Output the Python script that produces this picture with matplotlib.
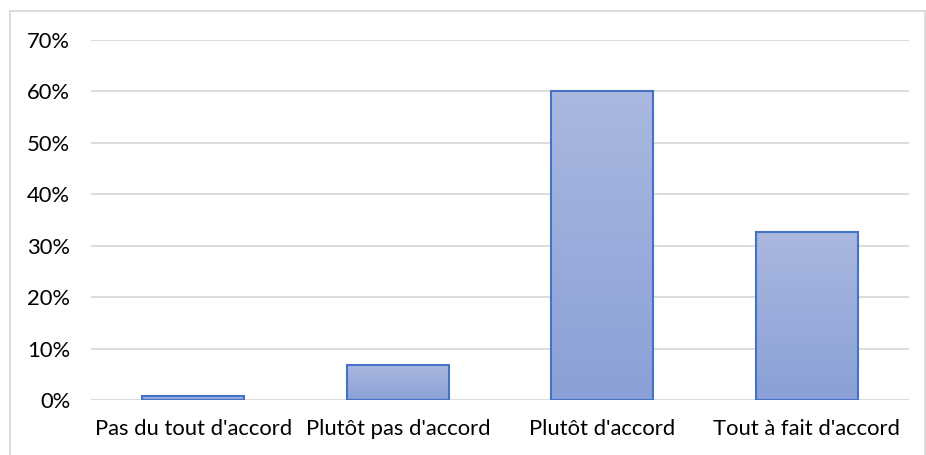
import matplotlib.pyplot as plt
import numpy as np
from matplotlib.colors import LinearSegmentedColormap
from matplotlib.patches import Rectangle
from matplotlib.ticker import PercentFormatter

categories = ["Pas du tout d'accord", "Plutôt pas d'accord", "Plutôt d'accord", "Tout à fait d'accord"]
values = [0.007, 0.068, 0.600, 0.327]
yticks = [0.0, 0.1, 0.2, 0.3, 0.4, 0.5, 0.6, 0.7]

plt.rcParams["font.family"] = ["Lato", "DejaVu Sans"]

fig = plt.figure(figsize=(9.26, 4.55), dpi=100)
ax = fig.add_axes([91 / 926, 55 / 455, 818 / 926, 360 / 455])

x = np.arange(len(categories))
bars = ax.bar(x, values, width=0.5, color="none", edgecolor="#4472C4", linewidth=1.5, zorder=3)

# vertical gradient inside each bar, Excel style
grad = LinearSegmentedColormap.from_list("g", ["#8AA0D6", "#AAB8E0"])
ramp = np.linspace(0, 1, 256).reshape(-1, 1)
for b in bars:
    x0, y0 = b.get_x(), b.get_y()
    im = ax.imshow(ramp, cmap=grad, aspect="auto", origin="lower",
                   extent=(x0, x0 + b.get_width(), y0, y0 + b.get_height()), zorder=2)
    im.set_clip_path(b)

ax.set_xlim(-0.5, len(categories) - 0.5)
ax.set_ylim(0, 0.7)
ax.set_yticks(yticks)
ax.yaxis.set_major_formatter(PercentFormatter(1.0, decimals=0))
ax.set_xticks(x, categories)
ax.grid(axis="y", color="#D9D9D9", linewidth=1.3, zorder=0)
ax.tick_params(length=0, labelsize=15.8, colors="#000000")
ax.tick_params(axis="x", pad=14)
ax.tick_params(axis="y", pad=15)
for s in ax.spines.values():
    s.set_visible(False)

# chart area border
fig.patches.append(Rectangle((10 / 926, -0.01), 915 / 926, 1 - 11 / 455 + 0.01,
                             transform=fig.transFigure, fill=False,
                             edgecolor="#D9D9D9", linewidth=1.3))

fig.savefig("out.png", dpi=100)
